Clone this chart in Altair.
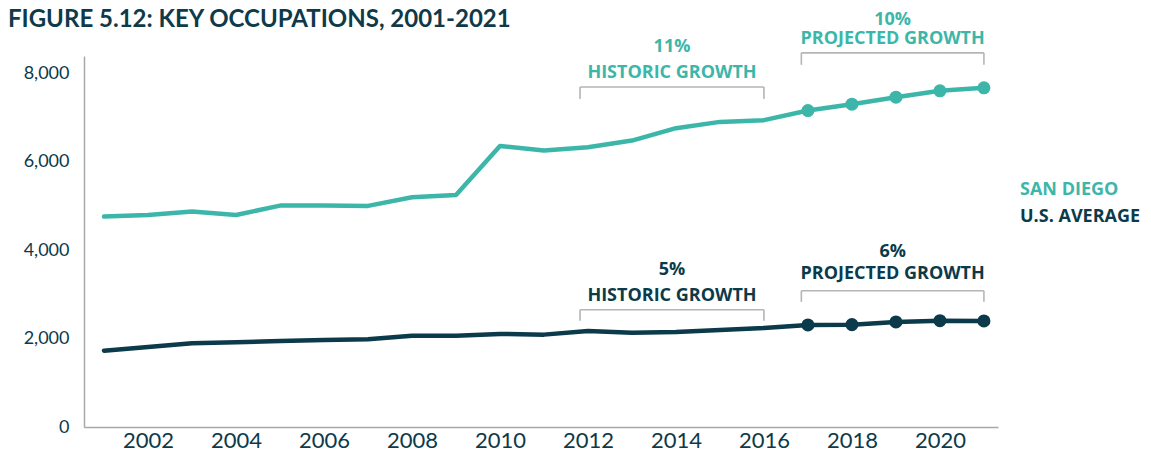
import altair as alt
import pandas as pd

# ---- data ----
years = list(range(2001, 2022))
san_diego = [4758, 4796, 4871, 4796, 5007, 5007, 5000, 5197, 5249, 6357, 6251,
             6328, 6477, 6758, 6900, 6939, 7156, 7301, 7459, 7602, 7670]
us_average = [1726, 1810, 1893, 1916, 1946, 1968, 1984, 2066, 2066, 2104, 2089,
              2172, 2134, 2149, 2195, 2240, 2308, 2315, 2376, 2405, 2398]
series_names = ["SAN DIEGO", "U.S. AVERAGE"]
series_colors = ["#3db6aa", "#0b3a4a"]
projected_from = 2017
title_text = "FIGURE 5.12: KEY OCCUPATIONS, 2001-2021"

# growth annotations (bracket spans in years, heights in axis units)
ann_series = ["SAN DIEGO", "SAN DIEGO", "U.S. AVERAGE", "U.S. AVERAGE"]
ann_pct = ["11%", "10%", "5%", "6%"]
ann_label = ["HISTORIC GROWTH", "PROJECTED GROWTH", "HISTORIC GROWTH", "PROJECTED GROWTH"]
bracket_start = [2011.82, 2016.85, 2011.82, 2016.85]
bracket_end = [2016.0, 2021.0, 2016.0, 2021.0]
bracket_top = [7690, 8460, 2650, 3080]
bracket_bottom = [7420, 8190, 2400, 2830]
pct_level = [8600, 9200, 3550, 3960]
label_level = [8010, 8780, 2965, 3460]

y_ticks = [0, 2000, 4000, 6000, 8000]
x_ticks = list(range(2002, 2021, 2))

rows = []
for name, vals in zip(series_names, [san_diego, us_average]):
    for yr, v in zip(years, vals):
        rows.append({"year": yr, "value": v, "series": name})
df = pd.DataFrame(rows)

ann = pd.DataFrame({
    "series": ann_series, "pct": ann_pct, "label": ann_label,
    "start": bracket_start, "end": bracket_end,
    "top": bracket_top, "bottom": bracket_bottom,
    "pct_y": pct_level, "label_y": label_level,
})
ann["mid"] = (ann["start"] + ann["end"]) / 2

dark = "#0b3a4a"
xscale = alt.Scale(domain=[2000.545, 2021.32], nice=False, zero=False)
yscale = alt.Scale(domain=[0, 8390], nice=False)
cscale = alt.Scale(domain=series_names, range=series_colors)

x_enc = alt.X("year:Q", scale=xscale,
              axis=alt.Axis(values=x_ticks, format="d", title=None, labelFont="Lato",
                            labelFontSize=22, labelColor=dark, labelPadding=3,
                            ticks=False, grid=False, domainColor="#a8a8a8", domainWidth=1.5))
y_enc = alt.Y("value:Q", scale=yscale,
              axis=alt.Axis(values=y_ticks, format=",.0f", title=None, labelFont="Lato",
                            labelFontSize=18, labelColor=dark, labelPadding=15,
                            ticks=False, grid=False, domainColor="#a8a8a8", domainWidth=1.5))

legend = alt.Legend(
    title=None, orient="none", legendX=918, legendY=125,
    symbolSize=0, symbolOpacity=0, symbolStrokeWidth=0, labelOffset=0,
    labelFont="Open Sans", labelFontSize=18, labelFontWeight="bold",
    labelColor=alt.ExprRef("datum.label == 'SAN DIEGO' ? '#3db6aa' : '#0b3a4a'"),
    rowPadding=9,
)

lines = alt.Chart(df).mark_line(strokeWidth=4.5, strokeJoin="round", strokeCap="round").encode(
    x=x_enc, y=y_enc,
    color=alt.Color("series:N", scale=cscale, legend=legend),
    detail="series:N",
)

points = alt.Chart(df).transform_filter(
    alt.datum.year >= projected_from
).mark_circle(size=170, opacity=1).encode(
    x=alt.X("year:Q", scale=xscale), y=alt.Y("value:Q", scale=yscale),
    color=alt.Color("series:N", scale=cscale, legend=None),
)

gray = "#b5b5b5"
br_h = alt.Chart(ann).mark_rule(color=gray, strokeWidth=1.6).encode(
    x=alt.X("start:Q", scale=xscale), x2="end:Q", y=alt.Y("top:Q", scale=yscale))
br_l = alt.Chart(ann).mark_rule(color=gray, strokeWidth=1.6).encode(
    x=alt.X("start:Q", scale=xscale), y=alt.Y("top:Q", scale=yscale), y2="bottom:Q")
br_r = alt.Chart(ann).mark_rule(color=gray, strokeWidth=1.6).encode(
    x=alt.X("end:Q", scale=xscale), y=alt.Y("top:Q", scale=yscale), y2="bottom:Q")

pct_text = alt.Chart(ann).mark_text(font="Open Sans", fontSize=18, fontWeight="bold",
                                    baseline="middle", align="center").encode(
    x=alt.X("mid:Q", scale=xscale), y=alt.Y("pct_y:Q", scale=yscale), text="pct:N",
    color=alt.Color("series:N", scale=cscale, legend=None))
label_text = alt.Chart(ann).mark_text(font="Open Sans", fontSize=18, fontWeight="bold",
                                      baseline="middle", align="center").encode(
    x=alt.X("mid:Q", scale=xscale), y=alt.Y("label_y:Q", scale=yscale), text="label:N",
    color=alt.Color("series:N", scale=cscale, legend=None))

title = alt.Chart(pd.DataFrame({"t": [title_text]})).mark_text(
    font="Lato", fontSize=24, fontWeight="bold", color="#0e3a4a",
    align="left", baseline="alphabetic",
).encode(x=alt.value(-76), y=alt.value(-29), text="t:N")

chart = alt.layer(br_h, br_l, br_r, lines, points, pct_text, label_text, title).properties(
    width=914, height=371,
    autosize=alt.AutoSizeParams(type="none"),
    padding={"left": 76, "top": 48, "right": 145, "bottom": 25},
).configure_view(stroke=None)

chart.save("out.html", embed_options={"renderer": "svg", "actions": False})
